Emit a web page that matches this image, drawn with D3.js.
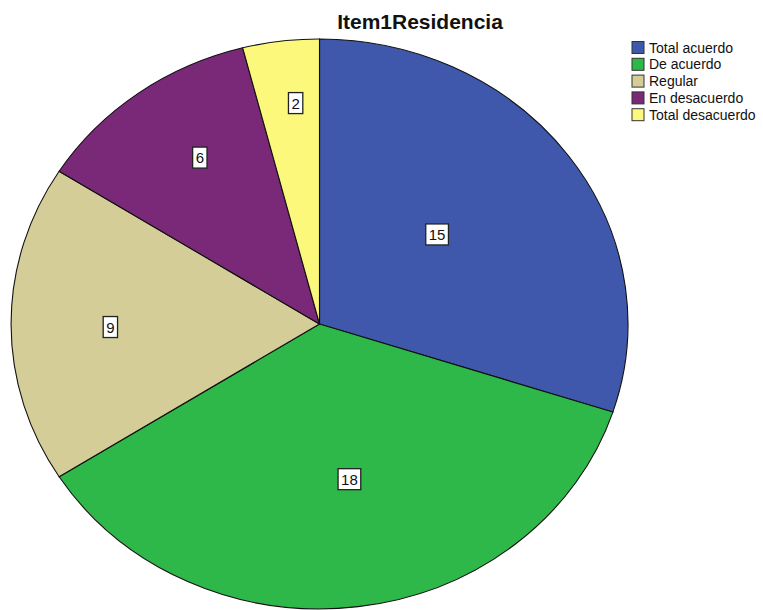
<!DOCTYPE html>
<html><head><meta charset="utf-8">
<script src="https://cdn.jsdelivr.net/npm/d3@7"></script>
<style>body{margin:0;background:#fff}svg{display:block}text{font-family:"Liberation Sans",Arial,sans-serif}</style>
</head><body>
<svg id="c" width="763" height="610"></svg>
<script>
const categories = ["Total acuerdo","De acuerdo","Regular","En desacuerdo","Total desacuerdo"];
const values = [15,18,9,6,2];
const colors = ["#3f58ac","#2eb84a","#d4cd98","#7a2878","#fbf87c"];
const title = "Item1Residencia";
// label placement (layout): radius fraction and angle shift in degrees
const labelR = [0.494,0.553,0.678,0.701,0.779];
const labelShift = [-3.5,-2.9,-0.9,2.4,1.5];

const svg = d3.select("#c");
const cx = 319.5, cy = 324, rx = 308.5, ry = 285;
const pie = d3.pie().sort(null).value(d=>d)(values);
const arc = d3.arc().innerRadius(0).outerRadius(1);
const g = svg.append("g").attr("transform",`translate(${cx},${cy}) scale(${rx},${ry})`);
g.selectAll("path").data(pie).join("path")
  .attr("d",arc).attr("fill",(d,i)=>colors[i])
  .attr("stroke","#111").attr("stroke-width",1.1).attr("vector-effect","non-scaling-stroke");

const lab = svg.append("g");
pie.forEach((d,i)=>{
  const a = (d.startAngle+d.endAngle)/2 + labelShift[i]*Math.PI/180;
  const x = cx + Math.sin(a)*labelR[i]*rx;
  const y = cy - Math.cos(a)*labelR[i]*ry;
  const t = lab.append("text").attr("x",x).attr("y",y+5.5).attr("text-anchor","middle")
    .attr("font-size",15).attr("fill","#111").text(values[i]);
  const bb = t.node().getBBox();
  lab.insert("rect","text").attr("x",bb.x-3).attr("y",y-10.5).attr("width",bb.width+6).attr("height",21)
    .attr("fill","#fff").attr("stroke","#222").attr("stroke-width",1.3);
});

svg.append("text").attr("x",420).attr("y",29).attr("text-anchor","middle")
  .attr("font-size",21).attr("font-weight","bold").attr("fill","#111").text(title);

const leg = svg.append("g");
categories.forEach((c,i)=>{
  const y = 41.5 + i*16.8;
  leg.append("rect").attr("x",632).attr("y",y).attr("width",12).attr("height",12)
    .attr("fill",colors[i]).attr("stroke","#333").attr("stroke-width",1);
  leg.append("text").attr("x",649).attr("y",y+11).attr("font-size",14).attr("fill","#111").text(c);
});
</script>
</body></html>
